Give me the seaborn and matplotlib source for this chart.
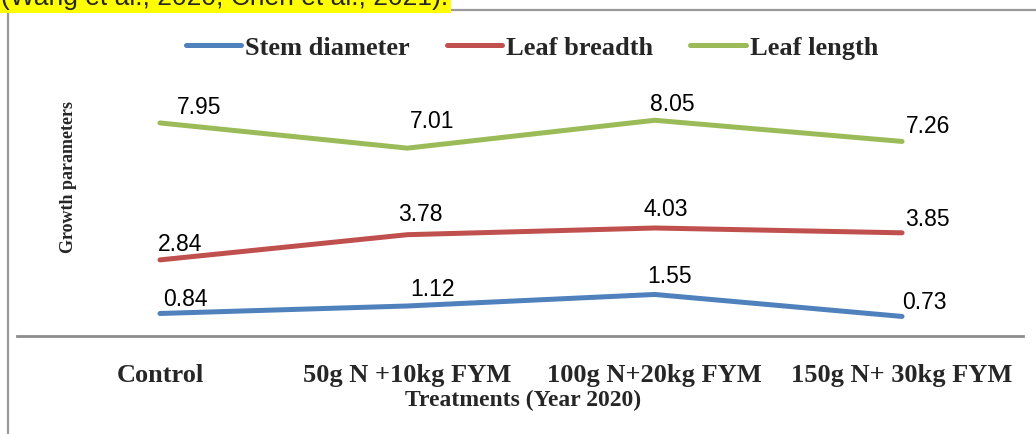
import matplotlib
matplotlib.use("Agg")
import matplotlib.pyplot as plt
import matplotlib.patches as patches
import seaborn as sns
import pandas as pd

# data
treatments = ["Control", "50g N +10kg FYM", "100g N+20kg FYM", "150g N+ 30kg FYM"]
stem_diameter = [0.84, 1.12, 1.55, 0.73]
leaf_breadth = [2.84, 3.78, 4.03, 3.85]
leaf_length = [7.95, 7.01, 8.05, 7.26]
series_names = ["Stem diameter", "Leaf breadth", "Leaf length"]

colors = ["#4F81BD", "#C0504D", "#9BBB59"]
# label offsets (pixels, right / up) from each point, per series
label_offsets = [
    [(25, 14), (25, 16), (15, 18), (22, 14)],
    [(20, 15), (13, 20), (11, 18), (25, 13)],
    [(39, 15), (25, 27), (18, 16), (26, 15)],
]

rows = []
for name, vals in zip(series_names, [stem_diameter, leaf_breadth, leaf_length]):
    for t, v in zip(treatments, vals):
        rows.append({"Treatment": t, "Value": v, "Series": name})
df = pd.DataFrame(rows)

sns.set_style("white")
serif = ["Liberation Serif", "DejaVu Serif"]
sans = ["Liberation Sans", "DejaVu Sans"]

W, H = 1036, 434
fig = plt.figure(figsize=(W / 100, H / 100), dpi=100)
ax = fig.add_axes([17 / W, 1 - 336 / H, 1006 / W, 268 / H])

sns.lineplot(data=df, x="Treatment", y="Value", hue="Series", palette=colors,
             sort=False, linewidth=3.6, ax=ax, legend=True)
for line in ax.get_lines():
    line.set_solid_capstyle("round")

# data labels
for i, (name, vals) in enumerate(zip(series_names, [stem_diameter, leaf_breadth, leaf_length])):
    for j, v in enumerate(vals):
        dx, dy = label_offsets[i][j]
        ax.annotate(f"{v:.2f}", (j, v), xytext=(dx * 0.72, dy * 0.72),
                    textcoords="offset points", ha="center", va="center",
                    fontsize=16.5, family=sans, color="black")

ax.set_xlim(-0.578, 3.489)
ax.set_ylim(0, 10)
ax.set_yticks([])
ax.tick_params(axis="x", length=0, pad=20)
for lab in ax.get_xticklabels():
    lab.set_fontfamily(serif)
    lab.set_fontweight("bold")
    lab.set_fontsize(19)

for s in ["left", "top", "right"]:
    ax.spines[s].set_visible(False)
ax.spines["bottom"].set_color("#8c8c8c")
ax.spines["bottom"].set_linewidth(2)

ax.set_xlabel("Treatments (Year 2020)", family=serif, fontweight="bold", fontsize=17)
ax.xaxis.set_label_coords(0.503, -0.24)
ax.xaxis.label.set_va("center")
ax.set_ylabel("Growth parameters", family=serif, fontweight="bold", fontsize=13)
ax.yaxis.set_label_coords(0.0507, 0.593)
ax.yaxis.label.set_va("center")

leg = ax.legend(loc="center", bbox_to_anchor=(0.512, 1.075), ncol=3, frameon=False,
                handlelength=2.1, handletextpad=0.15, columnspacing=1.4,
                prop={"family": serif, "weight": "bold", "size": 19})
for h in leg.get_lines():
    h.set_linewidth(3.6)
    h.set_solid_capstyle("round")

# chart frame (partly outside the picture) and cut-off text above it
fig.patches.append(patches.Rectangle((8 / W, -0.2), 1.2, 1 - 10 / H + 0.2,
                                     transform=fig.transFigure, fill=False,
                                     edgecolor="#9a9a9a", linewidth=1.6))
fig.text(0.001, 1 - 5 / H, "(Wang et al., 2020; Chen et al., 2021).",
         family=sans, fontsize=19, va="baseline", ha="left",
         bbox=dict(facecolor="#FFFF00", edgecolor="none", boxstyle="square,pad=0.1"))

fig.savefig("out.png", dpi=100)
